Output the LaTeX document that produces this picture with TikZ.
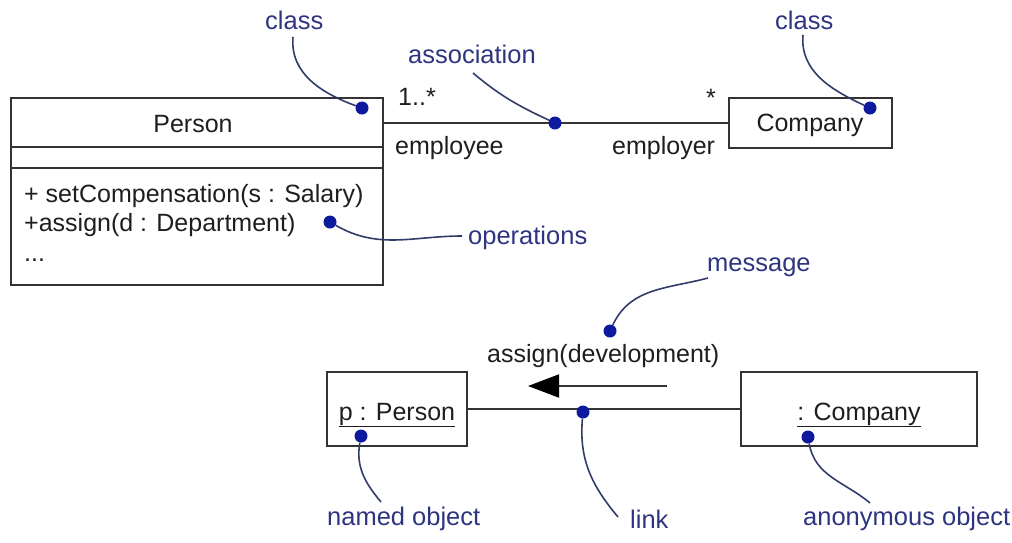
\documentclass[tikz,border=0pt]{standalone}
\usepackage{fontspec}
\setmainfont{Liberation Sans}
\usetikzlibrary{arrows.meta}
\definecolor{notecol}{HTML}{2E3580}
\definecolor{dotcol}{HTML}{0E1A9E}
\definecolor{leadcol}{HTML}{313C68}
\definecolor{inkcol}{HTML}{1E1E1E}
\definecolor{edgecol}{HTML}{333333}
\begin{document}
\begin{tikzpicture}[x=1pt,y=-1pt,
  txt/.style={inner sep=0pt,font=\fontsize{25}{30}\selectfont,text=inkcol},
  note/.style={inner sep=0pt,font=\fontsize{25.5}{30}\selectfont,text=notecol},
  umlbox/.style={draw=edgecol,line width=2.2pt,inner sep=0pt},
  assoc/.style={draw=edgecol,line width=1.8pt},
  pin/.style={circle,fill=dotcol,inner sep=0pt,minimum size=13pt},
  lead/.style={draw=leadcol,line width=1.6pt}]
\useasboundingbox (0,0) rectangle (1012,542);

% ---- class Person with its three compartments
\node[umlbox,minimum width=372,minimum height=187,anchor=north west] (person) at (10,97) {};
\draw[umlbox] (person.west |- 0,147) -- (person.east |- 0,147);
\draw[umlbox] (person.west |- 0,168) -- (person.east |- 0,168);
\node[txt,anchor=base] (pname) at (193,132) {Person};
\node[txt,anchor=base west] (op1) at (24,202) {+ setCompensation(s : Salary)};
\node[txt,anchor=base west] (op2) at (24,231) {+assign(d : Department)};
\node[txt,anchor=base west] (op3) at (24,261) {...};

% ---- class Company
\node[umlbox,minimum width=163,minimum height=50,anchor=north west] (company) at (728,97) {};
\node[txt,anchor=base] (cname) at (810,131) {Company};

% ---- association with multiplicities and roles
\draw[assoc] (person.east |- company.west) -- (company.west);
\node[txt,anchor=base west] (mult1) at (398,105) {1..*};
\node[txt,anchor=base west] (mult2) at (706,106) {*};
\node[txt,anchor=base west] (role1) at (395,154) {employee};
\node[txt,anchor=base west] (role2) at (612,154) {employer};

% ---- objects and link
\node[umlbox,minimum width=140,minimum height=74] (pobj) at (397,409) {};
\node[txt,anchor=base] (pobjname) at (397,420) {\underline{p : Person}};
\node[umlbox,minimum width=236,minimum height=74] (cobj) at (859,409) {};
\node[txt,anchor=base] (cobjname) at (859,420) {\underline{: Company}};
\draw[assoc] (pobj.east) -- (cobj.west);

% ---- message
\node[txt,anchor=base west] (msgtext) at (487,362) {assign(development)};
\coordinate (msgtail) at (667,386);
\coordinate (msghead) at (528,386);
\draw[assoc,-{Triangle[length=31pt,width=23pt,color=black]}] (msgtail) -- (msghead);

% ---- callout dots
\node[pin] (pclass) at (362,108) {};
\node[pin] (passoc) at (555,123) {};
\node[pin] (pcomp) at (870,108) {};
\node[pin] (pops) at (330,222) {};
\node[pin] (pmsg) at (610,331) {};
\node[pin] (plink) at (583,412) {};
\node[pin] (pnamed) at (361,436) {};
\node[pin] (panon) at (808,437) {};

% ---- callout labels
\node[note,anchor=base west] (nclass) at (265,29) {class};
\node[note,anchor=base west] (nassoc) at (408,63) {association};
\node[note,anchor=base west] (ncomp) at (775,29) {class};
\node[note,anchor=base west] (nops) at (468,244) {operations};
\node[note,anchor=base west] (nmsg) at (707,271) {message};
\node[note,anchor=base west] (nnamed) at (327,525) {named object};
\node[note,anchor=base west] (nlink) at (630,528) {link};
\node[note,anchor=base west] (nanon) at (803,525) {anonymous object};

% ---- leader curves
\coordinate (lclass) at (293,37);
\coordinate (lassoc) at (473,73);
\coordinate (lcomp) at (803,35);
\coordinate (lops) at (462,236);
\coordinate (lmsg) at (708,278);
\coordinate (lnamed) at (381,502);
\coordinate (llink) at (618,517);
\coordinate (lanon) at (870,503);
\draw[lead] (lclass) to[out=-95,in=160] (pclass);
\draw[lead] (lassoc) to[out=-40,in=155] (passoc);
\draw[lead] (lcomp) to[out=-95,in=155] (pcomp);
\draw[lead] (pops) to[out=-30,in=180] (lops);
\draw[lead] (lmsg) to[out=195,in=65] (pmsg);
\draw[lead] (pnamed) to[out=-100,in=130] (lnamed);
\draw[lead] (plink) to[out=-95,in=130] (llink);
\draw[lead] (panon) to[out=-80,in=140] (lanon);
\end{tikzpicture}
\end{document}
